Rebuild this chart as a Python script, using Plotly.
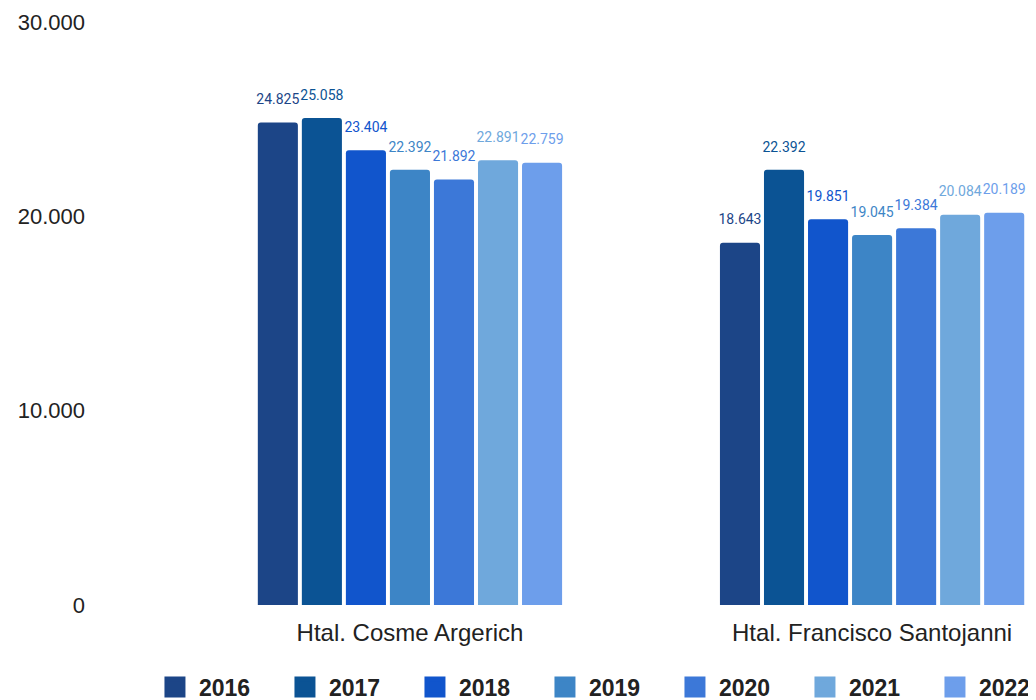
import plotly.graph_objects as go

categories = ["Htal. Cosme Argerich", "Htal. Francisco Santojanni"]
years = ["2016", "2017", "2018", "2019", "2020", "2021", "2022"]
values = {
    "2016": [24825, 18643],
    "2017": [25058, 22392],
    "2018": [23404, 19851],
    "2019": [22392, 19045],
    "2020": [21892, 19384],
    "2021": [22891, 20084],
    "2022": [22759, 20189],
}
colors = ["#1c4587", "#0b5394", "#1155cc", "#3d85c6", "#3c78d8", "#6fa8dc", "#6d9eeb"]
y_ticks = [0, 10000, 20000, 30000]

BARGAP = 0.333

fig = go.Figure()
for yr, col in zip(years, colors):
    vals = values[yr]
    fig.add_trace(go.Bar(
        name=yr,
        x=categories,
        y=vals,
        offsetgroup=yr,
        legendgroup=yr,
        showlegend=False,
        marker=dict(color=col, cornerradius=3, line=dict(width=0)),
        hoverinfo="x+y+name",
    ))
for yr, col in zip(years, colors):
    vals = values[yr]
    fig.add_trace(go.Scatter(
        name=yr,
        x=categories,
        y=vals,
        offsetgroup=yr,
        legendgroup=yr,
        mode="markers+text",
        marker=dict(size=22, color="rgba(0,0,0,0)"),
        text=[f"{v/1000:.3f}" for v in vals],
        textposition="top center",
        textfont=dict(family="Roboto, Arial, sans-serif", size=14, color=col),
        cliponaxis=False,
        showlegend=False,
        hoverinfo="skip",
    ))
# legend entries (large square swatches)
for yr, col in zip(years, colors):
    fig.add_trace(go.Scatter(
        name=yr,
        x=[None], y=[None],
        offsetgroup=yr,
        legendgroup=yr,
        mode="markers",
        marker=dict(symbol="square", size=16, color=col, line=dict(color=col, width=5)),
        showlegend=True,
        hoverinfo="skip",
    ))

fig.update_layout(
    width=1036, height=700,
    separators=",.",
    barmode="group",
    bargap=BARGAP,
    bargroupgap=0.09,
    scattermode="group",
    scattergap=BARGAP,
    plot_bgcolor="white",
    paper_bgcolor="white",
    margin=dict(l=78, r=0, t=14, b=103, autoexpand=False),
    font=dict(family="Liberation Sans, Arial, sans-serif", color="#222222"),
    xaxis=dict(
        type="category",
        range=[-0.701, 1.372],
        showgrid=False, showline=False, zeroline=False,
        tickfont=dict(size=24, color="#222222"),
        ticks="", ticklabelstandoff=11,
    ),
    yaxis=dict(
        range=[0, 30000],
        tickvals=y_ticks,
        tickformat=",d",
        showgrid=False, showline=False, zeroline=False,
        tickfont=dict(size=22, color="#222222"),
        ticks="",
    ),
    legend=dict(
        orientation="h",
        xref="container", yref="container",
        x=0.138, xanchor="left",
        y=0.03, yanchor="middle",
        font=dict(family="Liberation Sans, Arial", size=23, color="#222222", weight="bold"),
        entrywidth=77, entrywidthmode="pixels",
        itemwidth=38,
        itemsizing="trace",
    ),
    showlegend=True,
)

fig.write_html("out.html")
